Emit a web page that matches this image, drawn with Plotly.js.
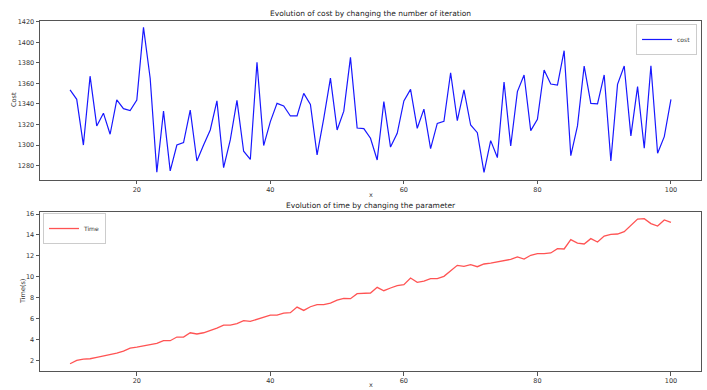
<!DOCTYPE html>
<html>
<head>
<meta charset="utf-8">
<script src="https://cdn.plot.ly/plotly-3.0.1.min.js"></script>
<style>html,body{margin:0;padding:0;background:#fff;}#chart{width:707px;height:390px;}</style>
</head>
<body>
<div id="chart"></div>
<script>
// x values: 10..100
const xValues = [10,11,12,13,14,15,16,17,18,19,20,21,22,23,24,25,26,27,28,29,30,31,32,33,34,35,36,37,38,39,40,41,42,43,44,45,46,47,48,49,50,51,52,53,54,55,56,57,58,59,60,61,62,63,64,65,66,67,68,69,70,71,72,73,74,75,76,77,78,79,80,81,82,83,84,85,86,87,88,89,90,91,92,93,94,95,96,97,98,99,100];

const costValues = [1353.6,1344.5,1300,1367,1318.6,1331,1310.5,1344,1335.4,1333.5,1343.8,1414.5,1365,1273.5,1333,1274.8,1300,1302.4,1334,1284.5,1300,1314.7,1343,1278,1305,1343.5,1294,1286,1380.5,1299.5,1322.8,1340.6,1338,1328.3,1328.3,1350.3,1339.6,1290.4,1326,1365.2,1314.7,1333,1385.3,1316.6,1316,1306.6,1285.5,1342.2,1298,1311.4,1343,1354.2,1316.3,1335,1296.5,1321,1323,1370.4,1323.8,1353.6,1319.5,1312,1273.5,1304.3,1287.8,1361.3,1299.1,1352,1368.2,1314,1325,1373,1359.4,1358.4,1391.8,1289.7,1318.6,1376.9,1340.6,1340,1368.2,1284.5,1359,1376.9,1308.9,1356.8,1296.9,1377.2,1292,1308.2,1344.5];

const timeValues = [1.71,2.03,2.16,2.19,2.32,2.45,2.54,2.73,2.92,3.21,3.3,3.4,3.5,3.65,3.91,3.91,4.26,4.26,4.67,4.55,4.67,4.86,5.12,5.4,5.4,5.55,5.82,5.75,5.95,6.2,6.36,6.36,6.55,6.58,7.12,6.8,7.15,7.35,7.35,7.5,7.79,7.95,7.92,8.4,8.46,8.46,9.0,8.68,8.94,9.16,9.25,9.89,9.48,9.6,9.83,9.83,10.05,10.56,11.1,11.0,11.16,10.97,11.23,11.32,11.42,11.51,11.67,11.9,11.7,12.06,12.21,12.21,12.28,12.69,12.66,13.55,13.23,13.14,13.65,13.33,13.9,14.06,14.09,14.31,14.89,15.52,15.55,15.08,14.85,15.43,15.2];

const xTicks = [20,40,60,80,100];
const costTicks = [1280,1300,1320,1340,1360,1380,1400,1420];
const timeTicks = [2,4,6,8,10,12,14,16];

const font = 'DejaVu Sans, sans-serif';
const tickFont = {family: font, size: 6.5, color: '#333'};

const axisCommon = {
  showgrid: false, zeroline: false, showline: true, mirror: true,
  linecolor: '#555', linewidth: 1, ticks: 'outside', ticklen: 3.5,
  tickcolor: '#555', tickwidth: 1, tickfont: tickFont, automargin: false
};

const traces = [
  {x: xValues, y: costValues, type: 'scatter', mode: 'lines', name: 'cost',
   line: {color: '#1818ff', width: 1.2}, xaxis: 'x', yaxis: 'y', legend: 'legend'},
  {x: xValues, y: timeValues, type: 'scatter', mode: 'lines', name: 'Time',
   line: {color: 'rgba(255,40,40,0.8)', width: 1.3}, xaxis: 'x2', yaxis: 'y2', legend: 'legend2'}
];

const layout = {
  width: 707, height: 390,
  margin: {l: 40, r: 6, t: 0, b: 0},
  paper_bgcolor: '#fff', plot_bgcolor: '#fff',
  font: {family: font, size: 7, color: '#222'},
  xaxis: Object.assign({}, axisCommon, {domain: [0, 1], range: [5.5, 104.5], tickvals: xTicks, anchor: 'y'}),
  yaxis: Object.assign({}, axisCommon, {domain: [0.5385, 0.9469], range: [1266, 1421], tickvals: costTicks, anchor: 'x'}),
  xaxis2: Object.assign({}, axisCommon, {domain: [0, 1], range: [5.5, 104.5], tickvals: xTicks, anchor: 'y2'}),
  yaxis2: Object.assign({}, axisCommon, {domain: [0.0487, 0.4572], range: [1.02, 16.22], tickvals: timeTicks, anchor: 'x2'}),
  showlegend: true,
  legend: {x: 0.994, y: 0.9385, xanchor: 'right', yanchor: 'top', bgcolor: '#fff',
           bordercolor: '#ccc', borderwidth: 1, font: {family: font, size: 6, color: '#333'},
           itemwidth: 30, tracegroupgap: 0},
  legend2: {x: 0.0045, y: 0.4538, xanchor: 'left', yanchor: 'top', bgcolor: '#fff',
           bordercolor: '#ccc', borderwidth: 1, font: {family: font, size: 6, color: '#333'},
           itemwidth: 30, tracegroupgap: 0},
  annotations: [
    {text: 'Evolution of cost by changing the number of iteration', xref: 'paper', yref: 'paper',
     x: 0.5, y: 1 - 14/390, xanchor: 'center', yanchor: 'middle', showarrow: false,
     font: {family: font, size: 7.5, color: '#222'}},
    {text: 'Evolution of time by changing the parameter', xref: 'paper', yref: 'paper',
     x: 0.5, y: 1 - 205/390, xanchor: 'center', yanchor: 'middle', showarrow: false,
     font: {family: font, size: 7.5, color: '#222'}},
    {text: 'x', xref: 'paper', yref: 'paper', x: 0.5, y: 1 - 195/390,
     xanchor: 'center', yanchor: 'middle', showarrow: false, font: {family: font, size: 6.5, color: '#333'}},
    {text: 'x', xref: 'paper', yref: 'paper', x: 0.5, y: 1 - 385/390,
     xanchor: 'center', yanchor: 'middle', showarrow: false, font: {family: font, size: 6.5, color: '#333'}},
    {text: 'Cost', xref: 'paper', yref: 'paper', x: -26/661, y: 1 - 100/390, textangle: -90,
     xanchor: 'center', yanchor: 'middle', showarrow: false, font: {family: font, size: 6.5, color: '#333'}},
    {text: 'Time(s)', xref: 'paper', yref: 'paper', x: -17.5/661, y: 1 - 291.5/390, textangle: -90,
     xanchor: 'center', yanchor: 'middle', showarrow: false, font: {family: font, size: 6.5, color: '#333'}}
  ]
};

Plotly.newPlot('chart', traces, layout, {displayModeBar: false, staticPlot: true});
</script>
</body>
</html>
